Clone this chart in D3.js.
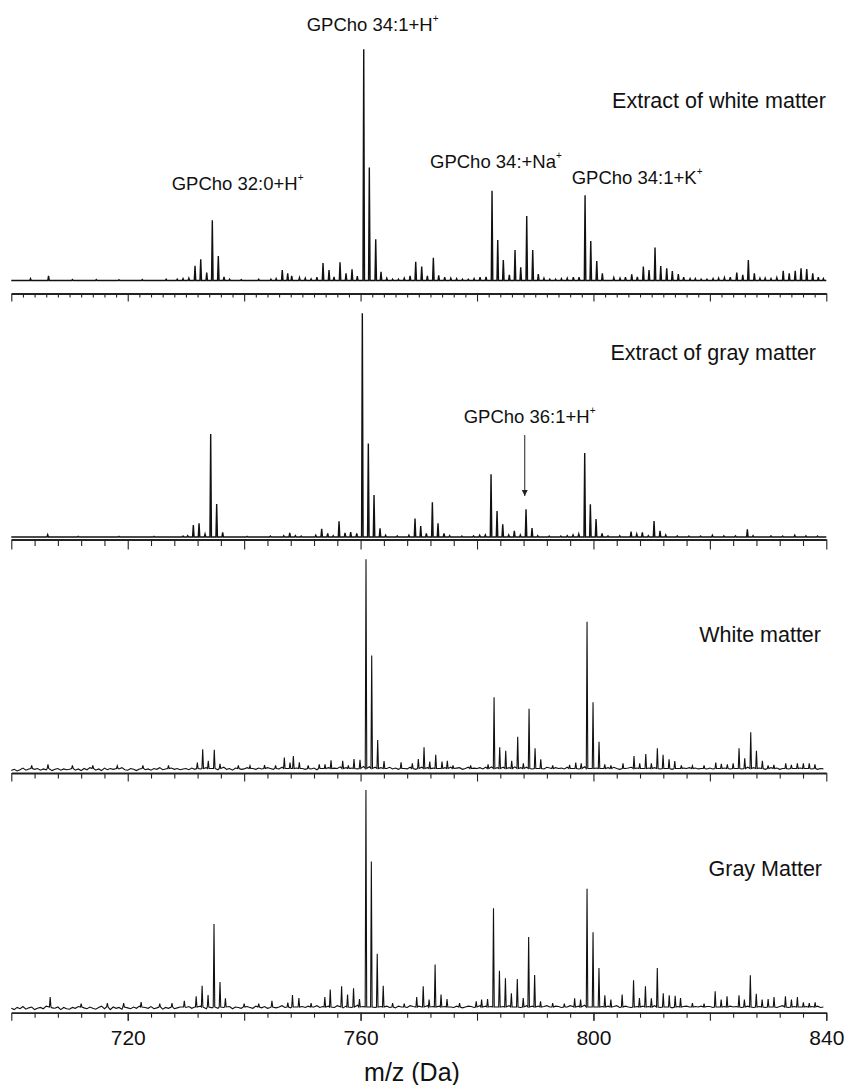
<!DOCTYPE html>
<html>
<head>
<meta charset="utf-8">
<script src="https://cdn.jsdelivr.net/npm/d3@7"></script>
<style>
  body { margin: 0; background: #fff; }
  svg { font-family: "Liberation Sans", Arial, sans-serif; }
</style>
</head>
<body>
<div id="container"></div>
<script>
/* CONSTANTS AND GLOBALS */
const width = 847;
const height = 1085;

/* DATA */
// [m/z, relative intensity, tallest peak of each spectrum = 100]
const peaksWhiteExtract = [
  [703.3,0.8],[706.4,2.0],[710.5,0.4],[714.6,0.4],[718.5,0.3],[722.5,0.4],[726.6,0.5],[728.5,0.6],[729.5,0.8],[730.5,1.0],
  [731.56,6.4],[732.54,9.2],[733.57,3.4],[734.53,26.1],[735.56,10.6],[736.54,1.6],[737.5,0.6],[739.5,0.4],[742.5,0.5],[744.6,0.6],[745.5,0.8],
  [746.55,4.5],[747.48,3.1],[748.17,2.0],[749.5,1.2],[750.5,1.0],[751.5,0.7],[752.5,1.5],
  [753.55,7.6],[754.58,4.5],[755.44,1.6],[756.47,7.9],[757.5,3.1],[758.53,4.8],[759.44,1.9],
  [760.54,100],[761.5,48.9],[762.6,17.8],[763.51,3.8],[764.5,1.0],[765.5,0.6],[766.5,0.6],[767.5,1.0],[768.5,2.0],
  [769.47,8.1],[770.5,6.0],[771.47,2.0],[772.5,9.8],[773.42,2.2],[774.45,1.5],[775.5,1.0],[776.5,0.8],[777.5,0.6],[778.5,0.5],[779.5,0.8],
  [780.52,1.4],[781.55,1.6],[782.58,38.8],[783.56,17.5],[784.52,8.9],[785.55,2.4],[786.53,13.2],[787.51,5.7],[788.54,27.9],[789.57,13.2],[790.53,2.8],
  [791.5,1.0],[792.5,0.6],[793.5,0.6],[794.5,0.8],[795.5,1.0],
  [796.55,1.4],[797.53,1.4],[798.56,36.9],[799.54,17.1],[800.57,8.4],[801.53,3.1],[803.5,1.2],[804.57,1.0],[805.5,1.5],
  [806.58,2.7],[807.54,1.6],[808.57,6.0],[809.55,4.5],[810.58,14.3],[811.56,6.3],[812.59,5.3],[813.55,4.1],[814.58,2.8],[815.5,1.5],[816.6,0.8],[817.5,0.8],[818.5,0.6],[819.5,0.6],
  [820.55,0.8],[821.5,1.0],[822.5,1.2],[823.5,1.5],[824.62,3.4],[825.65,2.4],[826.61,8.9],[827.64,3.1],[828.6,1.0],[829.5,1.0],[830.5,0.8],[831.5,1.2],
  [832.6,4.2],[833.63,3.1],[834.66,4.2],[835.66,5.3],[836.64,5.0],[837.67,3.1],[838.63,1.5],[839.5,0.8]
];

const peaksGrayExtract = [
  [706.25,1.0],[711.5,0.3],[718.5,0.3],[724.5,0.3],[729.5,0.4],[730.3,0.6],
  [731.27,5.4],[732.25,6.1],[733.28,1.3],[734.25,46],[735.28,14.7],[736.31,2.1],[740.5,0.3],[744.5,0.4],[746.8,0.6],
  [747.83,1.9],[748.8,0.6],[749.8,0.4],[752.3,0.8],
  [753.32,3.7],[754.35,1.6],[755.3,0.6],[756.3,7.0],[757.33,1.9],[758.3,2.2],[759.34,1.6],
  [760.3,100],[761.33,41.8],[762.31,18.8],[763.34,3.9],[764.3,0.8],[766.3,0.5],[768.3,0.8],
  [769.35,8.3],[770.33,4.9],[771.3,1.6],[772.33,15.5],[773.3,6.1],[774.33,1.6],[775.3,0.6],[777.4,0.4],[779.4,0.5],
  [780.46,0.8],[781.43,0.9],[782.41,28],[783.44,11.6],[784.42,5.7],[785.45,0.9],[786.41,2.7],[787.44,0.9],[788.42,12.4],[789.45,4.0],[790.43,0.6],
  [792.4,0.4],[794.4,0.4],[795.5,0.6],
  [796.5,0.9],[797.48,1.3],[798.5,37.6],[799.47,14.6],[800.45,8.0],[801.48,1.6],[802.5,0.5],[804.52,0.6],
  [806.46,2.4],[807.44,1.3],[808.4,2.1],[809.43,0.6],[810.41,7.1],[811.44,2.7],[812.42,0.9],[814.4,0.5],[816.4,0.4],[818.4,0.4],
  [820.43,0.8],[822.4,0.5],[824.4,0.5],[826.44,3.4],[827.42,0.6],[830.5,0.5],[832.5,0.4],[834.58,0.8],[836.5,0.5],[838.5,0.4]
];

const peaksWhiteTissue = [
  [703.5,1.5],[706.3,2.0],[710.5,1.5],[714.0,1.5],[718.2,1.3],[722.6,1.5],[727.0,1.5],
  [731.96,2.8],[732.88,9.2],[733.84,3.7],[734.87,8.9],[735.85,2.2],[739.0,1.5],[741.0,1.3],[743.5,1.6],[745.4,1.5],
  [746.9,5.2],[747.88,2.8],[748.45,6.0],[749.48,3.0],[751.0,1.5],[752.9,2.0],
  [753.89,2.0],[754.92,3.9],[756.93,3.7],[757.9,1.5],[758.87,4.5],[759.9,4.1],
  [760.93,100],[761.91,54],[762.94,13.6],[764.03,3.6],[766.95,3.0],[768.89,2.5],[769.92,4.5],
  [770.9,10.1],[771.88,3.3],[772.91,6.5],[773.99,3.3],[774.9,3.7],[775.88,1.5],[778.9,1.5],[781.9,2.0],
  [782.93,34],[783.9,10.1],[784.93,8.5],[785.96,3.7],[786.99,15.2],[787.96,2.5],[788.94,28.5],[789.97,9.7],[790.95,4.4],[793.0,1.5],[795.9,1.8],
  [796.96,2.8],[797.9,2.5],[798.9,70.2],[799.93,31.7],[800.96,12.8],[801.94,2.0],[803.0,1.5],[805.08,2.5],
  [806.97,6.0],[807.95,2.5],[808.99,6.9],[809.95,2.5],[810.98,9.7],[811.96,6.5],[812.99,4.4],[813.97,3.6],[815.1,1.5],[817.0,1.3],[819.0,1.5],
  [821.01,2.8],[821.97,2.2],[823.0,2.0],[824.0,2.5],[825.01,9.7],[825.99,4.9],[827.02,17.3],[828.0,8.5],[829.02,3.7],[830.0,1.5],[831.0,1.8],
  [833.03,2.5],[834.0,1.8],[835.03,2.5],[836.06,2.5],[837.07,2.5],[838.05,2.0]
];

const peaksGrayTissue = [
  [706.68,4.6],[712.0,1.5],[716.5,1.8],[719.3,1.8],[722.3,2.3],[725.5,1.5],[727.6,1.8],[729.72,2.9],
  [731.76,4.9],[732.78,9.8],[733.8,5.5],[734.82,38.2],[735.85,11.5],[736.78,4.0],[740.0,1.5],[742.5,1.5],
  [744.77,2.9],[747.5,2.0],[748.3,5.5],[749.4,4.1],[751.5,1.8],
  [753.86,4.6],[754.79,8.0],[756.74,9.6],[757.76,5.7],[758.79,8.6],[759.81,3.7],
  [760.92,100],[761.85,67.1],[762.86,24.5],[763.89,9.8],[765.5,1.8],[767.5,1.5],
  [769.64,4.6],[770.76,9.6],[771.77,3.4],[772.8,19.6],[773.82,5.7],[774.85,3.7],[777.0,1.8],
  [779.86,2.6],[780.79,3.4],[781.81,3.7],[782.83,45.5],[783.85,16.7],[784.88,13.2],[785.9,6.3],[786.92,12.9],[787.94,4.1],[788.87,32.3],[789.9,14.7],[790.91,2.6],[793.0,1.8],[795.0,1.5],
  [796.77,4.0],[797.79,3.4],[798.9,54.5],[799.93,34.5],[800.95,18.0],[801.96,5.4],[802.99,3.4],
  [804.93,5.7],[806.89,12.3],[807.9,4.1],[808.93,9.6],[809.95,4.0],[810.97,18.0],[811.99,6.3],[813.02,5.4],[814.04,5.2],[814.96,4.1],[817.0,1.8],[819.0,1.5],
  [820.91,7.2],[821.94,3.4],[822.95,4.9],[825.0,5.4],[825.93,3.4],[826.95,14.6],[827.97,6.1],[828.98,3.4],[830.01,3.7],[831.02,4.6],
  [832.98,4.9],[834.01,3.4],[835.03,4.6],[836.06,2.1],[837.07,1.8],[838.08,2.1]
];

// baseline noise of the tissue spectra, tenths of a unit, one value every 0.5 Da from 700
const noiseWhiteTissue = [
  6,9,5,8,12,7,10,6,9,11, 7,10,8,13,6,9,11,7,10,8,
  9,12,7,10,6,11,8,13,9,7, 10,6,12,8,11,9,7,10,13,8,
  7,11,9,6,10,12,8,10,7,11, 9,13,8,10,6,12,9,11,8,10,
  11,8,12,9,14,10,8,13,9,11, 12,8,10,14,9,11,7,12,10,9,
  10,13,8,11,9,12,10,8,13,11, 9,12,10,14,8,11,13,9,12,10,
  11,9,13,10,12,8,14,11,10,13, 9,12,11,15,10,13,11,12,14,10,
  13,16,12,15,11,14,10,13,12,11, 14,10,12,9,13,11,10,14,12,9,
  12,14,11,13,10,12,14,11,9,13, 11,14,10,12,13,9,11,14,10,12,
  11,13,10,14,12,15,11,13,12,14, 10,13,11,15,12,13,11,14,12,10,
  13,11,12,10,14,12,9,13,11,12, 10,14,12,11,13,10,12,15,13,11,
  14,12,13,11,10,13,12,14,11,9, 13,11,12,14,10,12,13,11,14,12,
  11,13,12,10,14,11,12,9,13,11, 10,12,11,13,9,12,10,11,13,10,
  12,10,13,11,9,12,14,10,12,11, 13,10,12,14,11,13,10,12,11,9,
  11,13,10,12,9,11,13,10,12,11, 9,12,10,11,13,10,12,9,11,10
];

const noiseGrayTissue = [
  8,5,10,7,12,6,9,11,5,8, 10,7,13,6,9,8,11,5,10,7,
  6,10,8,12,5,9,7,11,8,6, 10,13,7,9,5,11,8,10,6,12,
  9,7,11,8,13,6,10,8,12,7, 9,11,6,10,8,13,7,9,11,8,
  10,12,8,11,9,13,10,7,12,9, 11,8,13,10,9,12,7,11,10,8,
  9,12,10,8,13,11,9,12,8,10, 12,9,11,14,10,12,9,13,11,8,
  12,10,13,9,11,14,10,12,9,13, 11,10,14,12,9,13,11,10,12,15,
  14,12,15,11,13,10,14,12,11,13, 10,12,9,13,11,12,10,14,12,9,
  13,11,12,14,10,12,11,13,9,12, 14,11,10,13,12,9,11,13,12,10,
  12,14,11,13,10,12,15,11,13,12, 10,14,12,11,13,10,12,14,11,13,
  11,13,10,12,14,11,9,13,12,10, 12,11,14,12,10,13,11,15,12,11,
  13,11,14,12,10,13,11,12,14,10, 12,13,11,10,14,12,11,13,10,12,
  11,14,12,10,13,11,12,9,13,12, 10,12,13,11,9,12,11,13,10,12,
  12,10,13,11,14,12,10,13,11,12, 14,10,12,13,11,10,13,12,11,10,
  12,11,13,10,12,14,11,10,13,12, 10,11,13,12,10,12,11,13,10,11
];

const panelNames = ["Extract of white matter", "Extract of gray matter", "White matter", "Gray Matter"];
const tickLabels = [720, 760, 800, 840];

/* LAYOUT */
const xDomain = [700, 840];
const xRange = [11.3, 826.3];
const panels = [
  { peaks: peaksWhiteExtract, noise: null, top: 49.3, base: 280.5, stroke: 1.4, label: [826, 108] },
  { peaks: peaksGrayExtract, noise: null, top: 313.3, base: 537, stroke: 1.4, label: [816, 360] },
  { peaks: peaksWhiteTissue, noise: noiseWhiteTissue, top: 559.3, base: 768.5, stroke: 1.1, label: [821, 641.5] },
  { peaks: peaksGrayTissue, noise: noiseGrayTissue, top: 790, base: 1007, stroke: 1.1, label: [822, 876] }
];
const noiseLevel = 11;   // mean of the noise values (tenths)
const noiseGain = 5;     // tenths per intensity unit on screen
const halfWidth = 0.13;

// CREATE SVG ELEMENT
const svg = d3.select("#container")
  .append("svg")
  .attr("width", width)
  .attr("height", height)
  .style("background-color", "white");

// + SCALES
const xScale = d3.scaleLinear().domain(xDomain).range(xRange);

// LINE GENERATOR FUNCTION
function spectrumPoints(peaks, noise) {
  const pts = [];
  peaks.forEach(([mz, h]) => {
    pts.push([mz - halfWidth, 0], [mz, h], [mz + halfWidth, 0]);
  });
  if (noise) {
    noise.forEach((v, i) => {
      const mz = xDomain[0] + i * 0.5;
      if (!peaks.some(p => Math.abs(p[0] - mz) < 0.25)) pts.push([mz, (v - noiseLevel) / noiseGain]);
    });
  } else {
    pts.push([xDomain[0], 0], [xDomain[1], 0]);
  }
  return pts.sort((a, b) => a[0] - b[0]);
}

// DRAW SPECTRA
panels.forEach((p, i) => {
  const yScale = d3.scaleLinear().domain([0, 100]).range([p.base, p.top]);
  const lineGen = d3.line()
    .x(d => xScale(d[0]))
    .y(d => yScale(d[1]));

  svg.selectAll(`.spectrum${i}`)
    .data([spectrumPoints(p.peaks, p.noise)])
    .join("path")
    .attr("class", `spectrum${i}`)
    .attr("fill", "none")
    .attr("stroke", "#111")
    .attr("stroke-width", p.stroke)
    .attr("d", lineGen);

  svg.append("text")
    .attr("x", p.label[0])
    .attr("y", p.label[1])
    .attr("text-anchor", "end")
    .attr("font-size", 21.5)
    .attr("fill", "#111")
    .text(panelNames[i]);
});

// BUILD AND CALL AXES
function drawAxis(y, step, minorLen, majorLen) {
  const minor = d3.range(xDomain[0], xDomain[1] + 0.1, step).filter(v => v % 20 !== 0);
  const major = d3.range(xDomain[0], xDomain[1] + 0.1, 20);
  const g = svg.append("g").attr("transform", `translate(0, ${y})`);
  g.append("g")
    .call(d3.axisBottom(xScale).tickValues(minor).tickSize(minorLen).tickSizeOuter(0).tickFormat(""))
    .call(a => a.select(".domain").attr("stroke-width", 1.8).attr("stroke", "#222"));
  g.append("g")
    .call(d3.axisBottom(xScale).tickValues(major).tickSize(majorLen).tickSizeOuter(0).tickFormat(""))
    .call(a => a.select(".domain").remove());
  g.selectAll(".tick line").attr("stroke", "#222").attr("stroke-width", 1.1);
  return g;
}

drawAxis(293.5, 2, 4, 8);
drawAxis(539.5, 4, 6.5, 10);
drawAxis(773, 4, 5.5, 8.5);
const bottomAxis = drawAxis(1012.7, 4, 5, 8);

bottomAxis.append("g")
  .call(d3.axisBottom(xScale).tickValues(tickLabels).tickSize(8).tickPadding(9).tickFormat(d3.format("d")))
  .call(a => a.select(".domain").remove())
  .call(a => a.selectAll("text").attr("font-size", 21).attr("fill", "#111").attr("font-family", "Liberation Sans, Arial, sans-serif"))
  .call(a => a.selectAll(".tick line").attr("stroke", "#222").attr("stroke-width", 1.1));

svg.append("text")
  .attr("x", 412)
  .attr("y", 1081)
  .attr("text-anchor", "middle")
  .attr("font-size", 25)
  .attr("fill", "#111")
  .text("m/z (Da)");

// ANNOTATIONS
const annotations = [
  { text: "GPCho 34:1+H", x: 306.7, y: 30.7 },
  { text: "GPCho 32:0+H", x: 171.7, y: 190 },
  { text: "GPCho 34:+Na", x: 430, y: 168.3 },
  { text: "GPCho 34:1+K", x: 571.7, y: 184 },
  { text: "GPCho 36:1+H", x: 463.7, y: 423.3 }
];
annotations.forEach(a => {
  const t = svg.append("text")
    .attr("x", a.x)
    .attr("y", a.y)
    .attr("font-size", 18.5)
    .attr("fill", "#111");
  t.append("tspan").text(a.text);
  t.append("tspan").attr("font-size", 10).attr("dy", -9).text("+");
});

// arrow pointing at GPCho 36:1+H+
svg.append("defs").append("marker")
  .attr("id", "arrowhead")
  .attr("viewBox", "0 0 10 10")
  .attr("refX", 10).attr("refY", 5)
  .attr("markerWidth", 6).attr("markerHeight", 10)
  .attr("markerUnits", "userSpaceOnUse")
  .attr("orient", "auto")
  .append("path")
  .attr("d", "M0,0L10,5L0,10Z")
  .attr("fill", "#222");

svg.append("line")
  .attr("x1", xScale(788.2)).attr("x2", xScale(788.2))
  .attr("y1", 435).attr("y2", 496)
  .attr("stroke", "#222")
  .attr("stroke-width", 1)
  .attr("marker-end", "url(#arrowhead)");
</script>
</body>
</html>
